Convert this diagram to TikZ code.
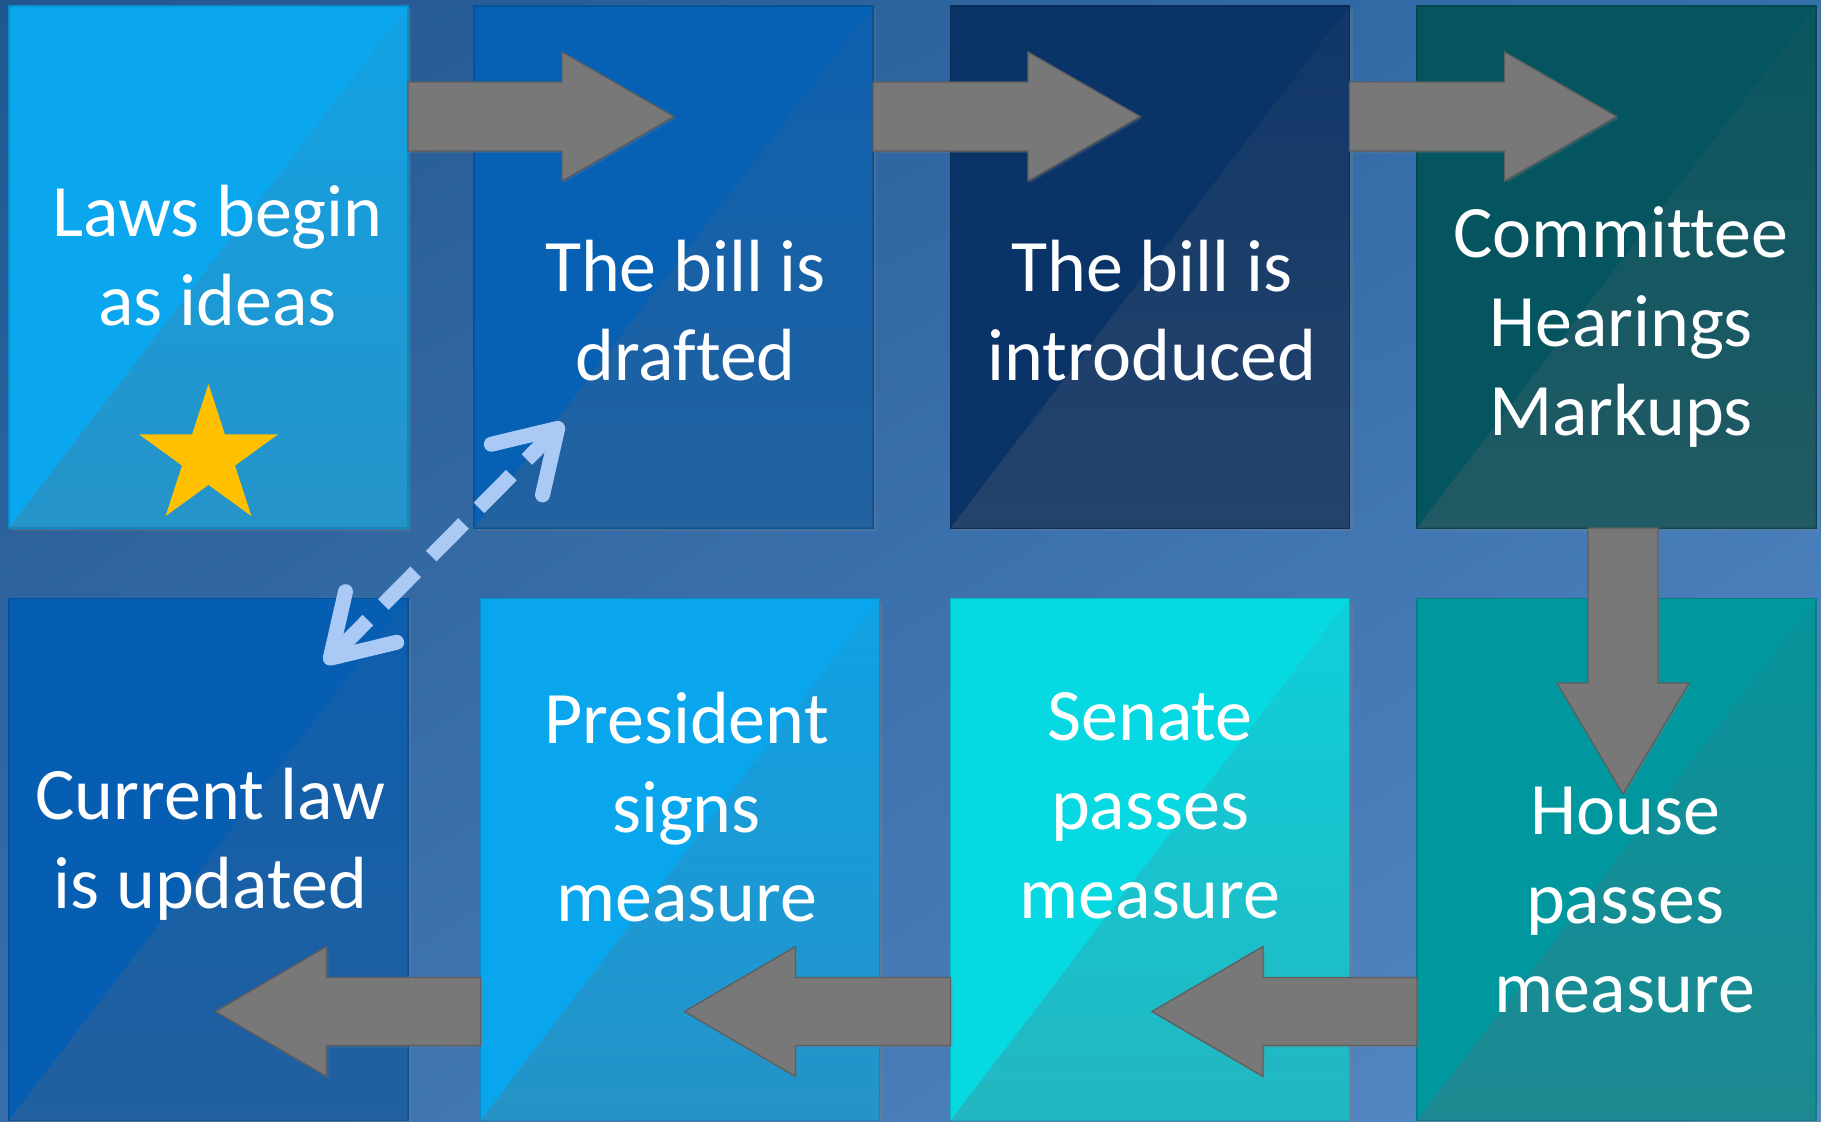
\documentclass[tikz,border=0pt]{standalone}
\usepackage{fontspec}
\setmainfont[Ligatures=NoCommon]{Carlito}
\usetikzlibrary{calc,arrows.meta,shadows,shadings,fadings}
\definecolor{bgUL}{HTML}{22568F}
\definecolor{bgUR}{HTML}{3670AC}
\definecolor{bgLL}{HTML}{386FAA}
\definecolor{bgLR}{HTML}{5A8BC8}
\definecolor{cA}{HTML}{0BA7EE}
\definecolor{cB}{HTML}{0660B4}
\definecolor{cC}{HTML}{0A3468}
\definecolor{cD}{HTML}{04555F}
\definecolor{cE}{HTML}{065EB3}
\definecolor{cF}{HTML}{0AA6ED}
\definecolor{cG}{HTML}{07D9E3}
\definecolor{cH}{HTML}{00979F}
\definecolor{ovl}{HTML}{646872}
\definecolor{arrowfill}{HTML}{787878}
\definecolor{arrowline}{HTML}{5E5E5E}
\definecolor{dashcol}{HTML}{ABC9F5}
\definecolor{starcol}{HTML}{FFC000}
\tikzfading[name=glossfade, top color=transparent!75, bottom color=transparent!0]
\begin{document}
\begin{tikzpicture}[x=1pt,y=-1pt,
  box/.style={rectangle, inner sep=0pt, outer sep=0pt, fill=#1, draw=#1!85!black,
    line width=1.2pt, minimum width=399pt, minimum height=522pt,
    drop shadow={shadow xshift=3pt,shadow yshift=-3pt,opacity=0.3}},
  gloss/.style={fill=ovl, fill opacity=0.3, path fading=glossfade},
  blk/.style={fill=arrowfill, draw=arrowline, line width=1.3pt, line join=miter,
    drop shadow={shadow xshift=2pt,shadow yshift=-2pt,opacity=0.25}},
  txt/.style={text=white, font=\fontsize{74}{89}\selectfont, align=center, inner sep=0pt},
  dasharrow/.style={draw=dashcol, line width=15pt, dash pattern=on 46pt off 22pt,
    {Straight Barb[length=58pt,width=72pt,round]}-{Straight Barb[length=58pt,width=72pt,round]}}
]
\useasboundingbox (0,0) rectangle (1821,1122);
\shade[upper left=bgUL, upper right=bgUR, lower left=bgLL, lower right=bgLR] (0,0) rectangle (1821,1122);

% boxes
\node[box=cA] (b1) at (208.5,267) {};
\node[box=cB] (b2) at (673.5,267) {};
\node[box=cC] (b3) at (1150,267) {};
\node[box=cD] (b4) at (1616.5,267) {};
\node[box=cE] (b5) at (208.5,859.5) {};
\node[box=cF] (b6) at (680,859.5) {};
\node[box=cG] (b7) at (1150,859.5) {};
\node[box=cH] (b8) at (1616.5,859.5) {};

\foreach \b in {b1,b2,b3,b4,b5,b6,b7,b8}
  \fill[gloss] (\b.south west) -- (\b.north east) -- (\b.south east) -- cycle;

% star
\fill[starcol] (208.5,384) -- (224.9,434.4) -- (277.9,434.4) -- (235.0,465.6) -- (251.4,516.1)
  -- (208.5,484.9) -- (165.6,516.1) -- (182.0,465.6) -- (139.1,434.4) -- (192.1,434.4) -- cycle;

% texts
\node[txt] (t1) at (217.5,256) {Laws begin\\as ideas};
\node[txt] (t2) at (685.5,311) {The bill is\\drafted};
\node[txt] (t3) at (1152,311) {The bill is\\introduced};
\node[txt] (t4) at (1621,327) {Committee\\Hearings\\Markups};
\node[txt] (t5) at (210.5,844.5) {Current law\\is updated};
\node[txt] (t6) at (686.5,807) {President\\signs\\measure};
\node[txt] (t7) at (1150,806) {Senate\\passes\\measure};
\node[txt] (t8) at (1625,900) {House\\passes\\measure};

% block arrows, top row (left to right)
\draw[blk] ($(b1.north east)+(0,76)$) -- ++(154,0) -- ++(0,-30) -- ++(112,64.5)
  -- ++(-112,64.5) -- ++(0,-30) -- ++(-154,0) -- cycle;
\draw[blk] ($(b2.north east)+(0,76)$) -- ++(155,0) -- ++(0,-30) -- ++(112,64.5)
  -- ++(-112,64.5) -- ++(0,-30) -- ++(-155,0) -- cycle;
\draw[blk] ($(b3.north east)+(0,76)$) -- ++(155,0) -- ++(0,-30) -- ++(112,64.5)
  -- ++(-112,64.5) -- ++(0,-30) -- ++(-155,0) -- cycle;
% down arrow
\draw[blk] ($(b4.south)+(-28.5,0)$) -- ++(0,155) -- ++(-31,0) -- ++(66,111)
  -- ++(66,-111) -- ++(-31,0) -- ++(0,-155) -- cycle;
% bottom row (right to left)
\draw[blk] ($(b8.north west)+(0,379)$) -- ++(-154,0) -- ++(0,-31) -- ++(-111,65)
  -- ++(111,65) -- ++(0,-31) -- ++(154,0) -- cycle;
\draw[blk] ($(b7.north west)+(0,379)$) -- ++(-155,0) -- ++(0,-31) -- ++(-111,65)
  -- ++(111,65) -- ++(0,-31) -- ++(155,0) -- cycle;
\draw[blk] ($(b6.north west)+(0,379)$) -- ++(-154,0) -- ++(0,-31) -- ++(-111,65)
  -- ++(111,65) -- ++(0,-31) -- ++(154,0) -- cycle;

% dashed double arrow
\draw[dasharrow] ($(b5.north east)+(-83,65)$) -- ($(b2.south west)+(89,-105)$);
\end{tikzpicture}
\end{document}
